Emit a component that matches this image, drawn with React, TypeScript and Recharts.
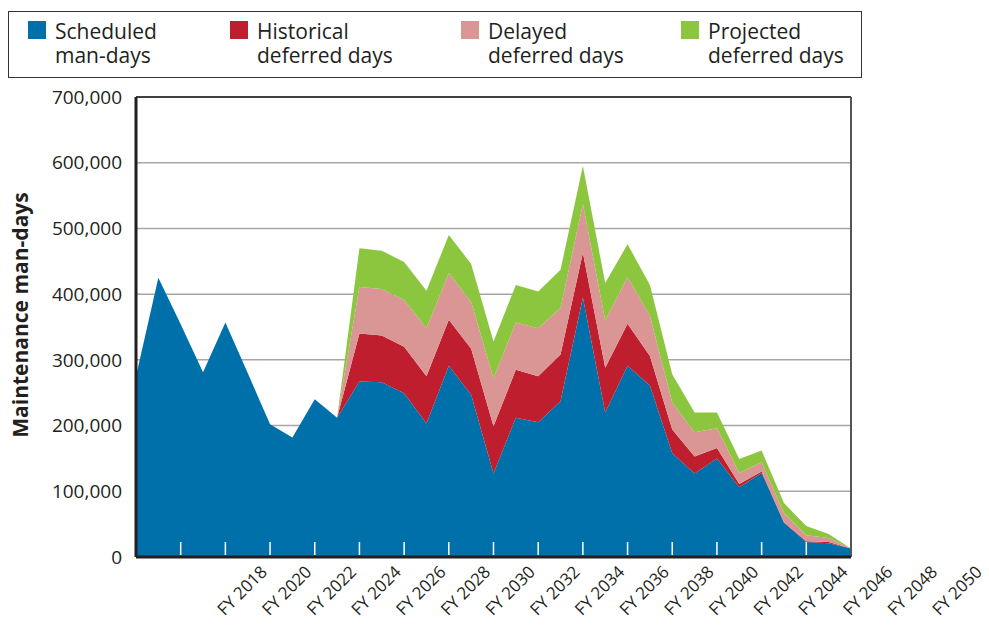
import { AreaChart, Area, XAxis, YAxis, CartesianGrid, ReferenceLine, Legend, Text } from 'recharts'

const FONT = '"Open Sans", "Noto Sans", sans-serif'
const TEXT = '#231f20'

// fiscal years plotted (one point per year)
const years = [
  2012, 2013, 2014, 2015, 2016, 2017, 2018, 2019, 2020, 2021, 2022,
  2023, 2024, 2025, 2026, 2027, 2028, 2029, 2030, 2031, 2032, 2033,
  2034, 2035, 2036, 2037, 2038, 2039, 2040, 2041, 2042, 2043, 2044,
]

const scheduled = [
  275000, 425000, 354000, 281000, 357000, 280000, 202000, 182000, 240000, 212000, 267000,
  266000, 249000, 203000, 291000, 247000, 127000, 212000, 205000, 237000, 395000, 220000,
  291000, 261000, 158000, 127000, 150000, 106000, 128000, 52000, 23000, 21000, 13000,
]
const historical = [
  0, 0, 0, 0, 0, 0, 0, 0, 0, 0, 73000,
  71000, 71000, 72000, 70000, 70000, 72000, 73000, 70000, 71000, 68000, 68000,
  64000, 45000, 36000, 26000, 16000, 5000, 2000, 1000, 1000, 2000, 0,
]
const delayed = [
  0, 0, 0, 0, 0, 0, 0, 0, 0, 0, 71000,
  71000, 71000, 73000, 71000, 71000, 73000, 72000, 73000, 71000, 74000, 72000,
  71000, 61000, 41000, 37000, 30000, 17000, 14000, 14000, 9000, 6000, 0,
]
const projected = [
  0, 0, 0, 0, 0, 0, 0, 0, 0, 0, 59000,
  58000, 58000, 57000, 58000, 58000, 56000, 57000, 56000, 58000, 58000, 57000,
  50000, 47000, 43000, 30000, 24000, 21000, 18000, 15000, 14000, 6000, 0,
]

// tick marks along the x axis and the labels as they sit in the original
const tickYears = [2014, 2016, 2018, 2020, 2022, 2024, 2026, 2028, 2030, 2032, 2034, 2036, 2038, 2040, 2042, 2044]
const labelYears = [2018, 2020, 2022, 2024, 2026, 2028, 2030, 2032, 2034, 2036, 2038, 2040, 2042, 2044, 2046, 2048, 2050]
const yTicks = [0, 100000, 200000, 300000, 400000, 500000, 600000, 700000]

const series = [
  { key: 'scheduled', name: 'Scheduled\nman-days', color: '#0070ab' },
  { key: 'historical', name: 'Historical\ndeferred days', color: '#be1e2d' },
  { key: 'delayed', name: 'Delayed\ndeferred days', color: '#da9694' },
  { key: 'projected', name: 'Projected\ndeferred days', color: '#8cc63f' },
]

const data = years.map((year, i) => ({
  year,
  scheduled: scheduled[i],
  historical: historical[i],
  delayed: delayed[i],
  projected: projected[i],
}))

const X_MIN = years[0]
const X_MAX = years[years.length - 1]
const AXIS_Y = 557

// white tick marks inside the plot, rotated labels below (the last ones run past the plot)
const XTick = (props: any) => {
  const { x, payload, width } = props
  const v = payload.value
  const yearPx = (width || 715) / (X_MAX - X_MIN)
  const last = v === tickYears[tickYears.length - 1]
  const labels = labelYears.filter((l) => (last ? l >= v : l >= v && l < v + 2))
  return (
    <g>
      {!last && <line x1={x} x2={x} y1={AXIS_Y - 15} y2={AXIS_Y - 2} stroke="#ffffff" strokeWidth={1.5} />}
      {labels.map((l) => (
        <Text
          key={l}
          x={x + (l - v) * yearPx - 2}
          y={AXIS_Y + 16}
          angle={-45}
          textAnchor="end"
          verticalAnchor="end"
          fontSize={17}
          fontFamily={FONT}
          fill={TEXT}
        >
          {`FY ${l}`}
        </Text>
      ))}
    </g>
  )
}

const LegendBox = () => (
  <div
    style={{
      boxSizing: 'border-box',
      width: 854,
      height: 67,
      border: '1.5px solid #333',
      position: 'relative',
      fontFamily: FONT,
      fontSize: 21,
      lineHeight: '24px',
      color: TEXT,
    }}
  >
    {series.map((s, i) => {
      const left = [19, 221, 452, 672][i]
      return (
        <div key={s.key} style={{ position: 'absolute', left, top: 7, display: 'flex' }}>
          <div style={{ width: 18, height: 18, background: s.color, marginTop: 2 }} />
          <div style={{ marginLeft: 9, whiteSpace: 'pre' }}>{s.name}</div>
        </div>
      )
    })}
  </div>
)

const YTitle = () => (
  <g transform="translate(28,315)">
    <text
      x={0}
      y={0}
      transform="rotate(-90)"
      textAnchor="middle"
      fontSize={21}
      fontWeight="bold"
      fontFamily={FONT}
      fill={TEXT}
    >
      Maintenance man-days
    </text>
  </g>
)

export default function App() {
  return (
    <div style={{ position: 'absolute', left: 0, top: 0, width: 989, height: 629, background: '#fff' }}>
      <AreaChart width={989} height={629} data={data} margin={{ top: 97, right: 138, left: 8, bottom: 0 }}>
        <CartesianGrid horizontal vertical={false} stroke="#a6a6a6" strokeWidth={1.5} />
        <Legend
          verticalAlign="middle"
          align="center"
          layout="horizontal"
          content={() => <LegendBox />}
          wrapperStyle={{ top: 11, left: 8, width: 854, height: 67 }}
        />
        {series.map((s) => (
          <Area
            key={s.key}
            type="linear"
            dataKey={s.key}
            name={s.name}
            stackId="1"
            fill={s.color}
            fillOpacity={1}
            stroke="none"
            isAnimationActive={false}
          />
        ))}
        <ReferenceLine y={700000} stroke="#404040" strokeWidth={2} />
        <ReferenceLine x={X_MAX} stroke="#555555" strokeWidth={2} />
        <XAxis
          dataKey="year"
          type="number"
          domain={[X_MIN, X_MAX]}
          ticks={tickYears}
          interval={0}
          height={72}
          tickLine={false}
          tick={<XTick />}
          axisLine={{ stroke: '#231f20', strokeWidth: 3 }}
        />
        <YAxis
          type="number"
          domain={[0, 700000]}
          ticks={yTicks}
          interval={0}
          width={128}
          tickLine={false}
          tickMargin={8}
          tickFormatter={(v: number) => v.toLocaleString('en-US')}
          tick={{ fontSize: 19, fontFamily: FONT, fill: TEXT }}
          axisLine={{ stroke: '#231f20', strokeWidth: 3 }}
          label={{ content: () => <YTitle /> }}
        />
      </AreaChart>
    </div>
  )
}
